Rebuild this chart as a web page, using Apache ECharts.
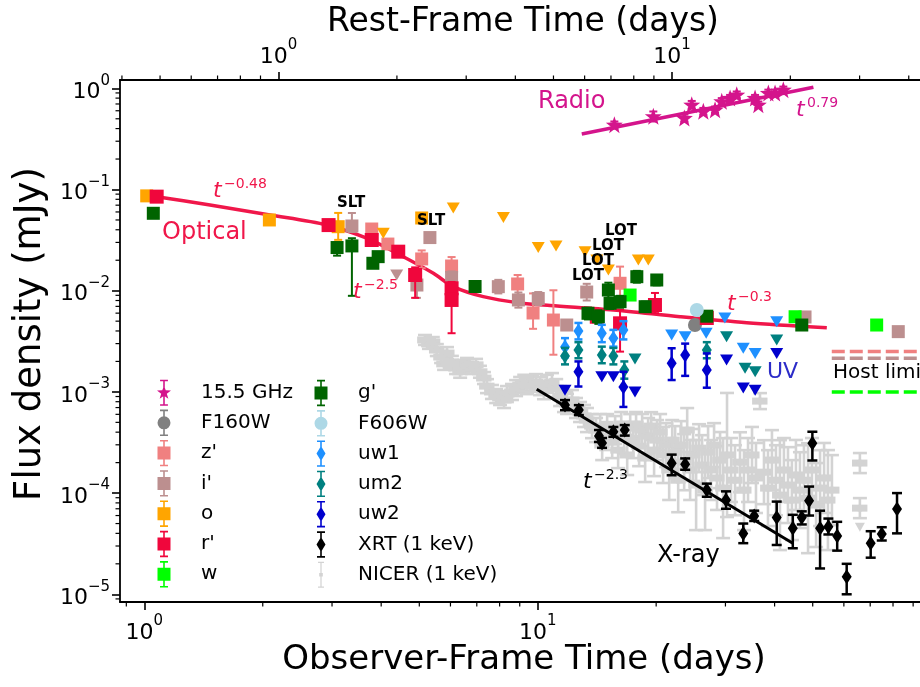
<!DOCTYPE html>
<html><head><meta charset="utf-8">
<script src="https://cdn.jsdelivr.net/npm/echarts@6/dist/echarts.min.js"></script>
<style>html,body{margin:0;padding:0;background:#fff}#c{width:920px;height:687px}</style>
</head><body><div id="c"></div>
<script>
// ---------------- axis ranges / ticks ----------------
const T_MIN = 0.8673, T_MAX = 118.4;      // observer-frame days
const F_MIN = 8.39e-6, F_MAX = 1.208;     // mJy
const REDSHIFT = 1.193;
const X_MAJOR = [1, 10];
const X_MINOR = [0.9, 2, 3, 4, 5, 6, 7, 8, 9, 20, 30, 40, 50, 60, 70, 80, 90, 110];
const XR_MAJOR = [1, 10];
const XR_MINOR = [0.4, 0.5, 0.6, 0.7, 0.8, 0.9, 2, 3, 4, 5, 6, 7, 8, 9, 20, 30, 40, 50];
const Y_MAJOR = [1, 0.1, 0.01, 0.001, 0.0001, 0.00001];
const Y_MINOR = [9e-6, 2e-5, 3e-5, 4e-5, 5e-5, 6e-5, 7e-5, 8e-5, 9e-5,
  2e-4, 3e-4, 4e-4, 5e-4, 6e-4, 7e-4, 8e-4, 9e-4,
  2e-3, 3e-3, 4e-3, 5e-3, 6e-3, 7e-3, 8e-3, 9e-3,
  0.02, 0.03, 0.04, 0.05, 0.06, 0.07, 0.08, 0.09,
  0.2, 0.3, 0.4, 0.5, 0.6, 0.7, 0.8, 0.9];

// ---------------- data ----------------
const RADIO_T = [15.66, 19.67, 23.59, 24.63, 26.36, 28.23, 29.36, 30.83, 32.05, 35.68, 36.37, 38.57, 40.11, 42.1];
const RADIO_F = [0.437, 0.529, 0.509, 0.689, 0.593, 0.614, 0.744, 0.802, 0.865, 0.802, 0.689, 0.899, 0.899, 0.969];
const RADIO_LO = [0.40, 0.47, 0.47, 0.63, 0.55, 0.57, 0.69, 0.74, 0.80, 0.74, 0.64, 0.83, 0.83, 0.90];
const RADIO_HI = [0.47, 0.59, 0.55, 0.75, 0.64, 0.66, 0.80, 0.86, 0.93, 0.86, 0.74, 0.97, 0.97, 1.04];
const RADIO_FIT_T = [12.94, 50.2];
const RADIO_FIT_F = [0.3535, 1.023];

const F160W_T = [25.1], F160W_F = [0.00458];
const F606W_T = [25.37], F606W_F = [0.00645];

const Z_T = [3.785, 4.16, 5.07, 6.04, 8.89, 9.73, 10.96, 16.19];
const Z_F = [0.0407, 0.0289, 0.0206, 0.01754, 0.01165, 0.00602, 0.00513, 0.01184];
const Z_LO = [0.037, 0.026, 0.0167, 0.0150, 0.0078, 0.0042, 0.00233, 0.0081];
const Z_HI = [0.045, 0.032, 0.025, 0.0215, 0.0143, 0.0094, 0.0101, 0.0173];

const I_T = [3.37, 4.93, 5.32, 6.04, 7.94, 8.93, 10.03, 11.85, 13.32, 47.8, 82.5];
const I_F = [0.0436, 0.01138, 0.0335, 0.0135, 0.01096, 0.0081, 0.00838, 0.00458, 0.0097, 0.0055, 0.00394];
const I_LO = [0.038, 0.0085, null, 0.0118, 0.0094, 0.0068, 0.0072, null, 0.0080, null, null];
const I_HI = [0.0586, 0.014, null, 0.0155, 0.0128, 0.0096, 0.0097, null, 0.0117, null, null];
const I_LIM_T = [4.38], I_LIM_F = [0.0143];

const O_T = [1.014, 2.079, 3.11, 5.07];
const O_F = [0.0865, 0.050, 0.0429, 0.0523];
const O_LO = [null, null, 0.0318, null];
const O_HI = [null, null, 0.0587, null];
const O_LIM_T = [4.05, 6.10, 8.18, 10.03, 11.13, 13.19, 14.13, 15.12, 18.02, 19.1];
const O_LIM_F = [0.0369, 0.0656, 0.0529, 0.0267, 0.0277, 0.0243, 0.0201, 0.0160, 0.0201, 0.0201];

const R_T = [1.075, 2.94, 3.785, 4.42, 4.88, 6.04, 6.04, 14.13, 16.19, 19.86, 26.9];
const R_F = [0.085, 0.0445, 0.0317, 0.0243, 0.0143, 0.01056, 0.0081, 0.00553, 0.00476, 0.00722, 0.00537];
const R_LO = [null, null, 0.0295, 0.0226, 0.0085, 0.0092, 0.0038, 0.0050, 0.0025, 0.0060, 0.0049];
const R_HI = [null, null, 0.0340, 0.0262, 0.0170, 0.0122, 0.0106, 0.0061, 0.0065, 0.0095, 0.0059];
const OPT_FIT_T = [0.994, 1.075, 1.469, 2.087, 2.909, 3.675, 4.467, 5.43, 6.10, 7.27, 9.02, 10.75, 15.57, 23.0, 33.98, 54.3];
const OPT_FIT_F = [0.0882, 0.0849, 0.0703, 0.0560, 0.0446, 0.0330, 0.02252, 0.01485, 0.01096, 0.00873, 0.00756, 0.00714, 0.00645, 0.00553, 0.00483, 0.00431];

const W_T = [17.17, 45.1, 72.7], W_F = [0.00906, 0.00553, 0.00458];

const G_T = [1.054, 3.09, 3.37, 3.81, 3.93, 6.93, 13.42, 14.26, 15.12, 15.27, 16.19, 17.86, 18.75, 20.07, 26.9, 46.9];
const G_F = [0.0582, 0.0267, 0.0277, 0.01866, 0.0217, 0.0110, 0.00598, 0.00553, 0.01016, 0.00751, 0.00779, 0.01375, 0.00695, 0.01276, 0.0056, 0.00458];
const G_LO = [0.056, 0.0222, 0.0089, 0.0175, 0.0200, 0.0098, 0.0052, 0.0047, 0.0085, 0.0066, 0.0068, 0.0120, 0.0062, 0.0113, 0.0052, 0.0042];
const G_HI = [0.060, 0.030, 0.033, 0.0199, 0.0235, 0.0123, 0.0068, 0.0064, 0.0120, 0.0085, 0.0089, 0.0157, 0.0078, 0.0143, 0.0061, 0.0050];

const UW1_T = [11.73, 12.69, 14.55, 15.57, 16.51];
const UW1_F = [0.00278, 0.0040, 0.00379, 0.00339, 0.00409];
const UW1_LO = [0.0022, 0.0033, 0.0031, 0.0028, 0.0033];
const UW1_HI = [0.0034, 0.0048, 0.0046, 0.0041, 0.0050];
const UW1_LIM_T = [21.9, 23.7, 26.8, 29.9, 33.3, 35.7, 40.5];
const UW1_LIM_F = [0.00365, 0.00351, 0.00379, 0.00537, 0.0027, 0.0024, 0.00494];

const UM2_T = [11.73, 12.69, 14.55, 15.57, 16.6, 26.9];
const UM2_F = [0.00226, 0.00259, 0.00232, 0.00226, 0.00165, 0.00259];
const UM2_LO = [0.00187, 0.00215, 0.00192, 0.00187, 0.00135, 0.00215];
const UM2_HI = [0.00272, 0.0031, 0.0028, 0.00272, 0.0020, 0.0031];
const UM2_LIM_T = [17.67, 30.2, 33.65, 35.7, 40.5];
const UM2_LIM_F = [0.00211, 0.00351, 0.00171, 0.00158, 0.00326];

const UW2_T = [12.69, 16.51, 21.9, 23.7, 26.9];
const UW2_F = [0.00158, 0.00112, 0.00192, 0.00232, 0.00165];
const UW2_LO = [0.00113, 0.00071, 0.00131, 0.00144, 0.0011];
const UW2_HI = [0.0020, 0.00158, 0.0027, 0.0030, 0.0024];
const UW2_LIM_T = [11.73, 14.55, 15.57, 17.67, 30.2, 33.3, 35.7, 40.5];
const UW2_LIM_F = [0.00104, 0.00141, 0.00141, 0.0010, 0.00207, 0.00109, 0.00104, 0.0024];

const XRT_T = [11.73, 12.72, 14.31, 14.57, 15.57, 16.64, 21.9, 23.7, 26.9, 30.1, 33.3, 35.5,
  40.5, 44.5, 46.9, 48.95, 49.9, 52.2, 54.8, 57.7, 61.0, 70.2, 74.9, 81.9];
const XRT_F = [7.41e-4, 6.62e-4, 3.66e-4, 3.13e-4, 4.04e-4, 4.20e-4, 1.97e-4, 1.93e-4, 1.07e-4, 8.55e-5, 3.99e-5, 5.94e-5,
  5.74e-5, 4.49e-5, 5.74e-5, 8.41e-5, 3.1e-4, 4.49e-5, 4.65e-5, 3.77e-5, 1.49e-5, 3.19e-5, 3.94e-5, 6.97e-5];
const XRT_LO = [6.6e-4, 5.9e-4, 3.2e-4, 2.8e-4, 3.6e-4, 3.7e-4, 1.5e-4, 1.7e-4, 9.2e-5, 7.0e-5, 3.2e-5, 5.3e-5,
  3.07e-5, 2.85e-5, 4.9e-5, 6.0e-5, 2.1e-4, 1.8e-5, 3.9e-5, 2.7e-5, 1.0e-5, 2.3e-5, 3.4e-5, 4.0e-5];
const XRT_HI = [8.3e-4, 7.4e-4, 4.2e-4, 3.5e-4, 4.5e-4, 4.7e-4, 2.4e-4, 2.2e-4, 1.24e-4, 1.04e-4, 5.0e-5, 6.7e-5,
  8.24e-5, 6.1e-5, 6.6e-5, 1.16e-4, 4.04e-4, 6.7e-5, 5.6e-5, 5.2e-5, 2.0e-5, 4.2e-5, 4.6e-5, 1.0e-4];
const XRT_FIT_T = [9.94, 44.5];
const XRT_FIT_F = [1.061e-3, 3.19e-5];

const NICER_T = [5.17, 5.29, 5.41, 5.54, 5.68, 5.78, 5.88, 6.05, 6.20, 6.35,
  6.49, 6.61, 6.81, 6.97, 7.13, 7.30, 7.43, 7.65, 7.84, 8.02,
  8.21, 8.35, 8.60, 8.81, 9.02, 9.24, 9.39, 9.67, 9.90, 10.14,
  10.37, 10.55, 10.87, 11.14, 11.40, 11.66, 11.87, 12.22, 12.51, 12.81,
  13.11, 13.34, 13.74, 14.07, 14.41, 14.58, 14.93, 15.01, 15.46, 15.73,
  16.01, 16.30, 16.58, 16.88, 17.18, 17.49, 17.78, 18.10, 18.42, 18.75,
  19.08, 19.42, 19.76, 20.11, 20.47, 20.83, 21.20, 21.58, 21.97, 22.35,
  22.75, 23.15, 23.56, 23.98, 24.40, 24.83, 25.27, 25.71, 26.17, 26.63,
  27.10, 27.58, 28.07, 28.56, 29.07, 29.59, 30.28, 31.0, 31.73, 32.67,
  33.44, 34.24, 35.05, 35.87, 36.72, 37.59, 38.48, 39.39, 40.32, 41.27,
  42.25, 43.26, 44.27, 45.32, 46.4, 47.5, 48.65, 49.78, 51.0, 52.2,
  53.44, 54.66, 55.95, 65.9, 65.9];
const NICER_F = [3.26e-3, 2.98e-3, 3.11e-3, 2.59e-3, 2.21e-3, 1.89e-3, 2.42e-3, 1.98e-3, 1.72e-3, 1.58e-3,
  1.80e-3, 1.89e-3, 1.72e-3, 1.85e-3, 1.58e-3, 1.37e-3, 1.14e-3, 9.98e-4, 9.1e-4, 8.70e-4,
  8.31e-4, 9.52e-4, 9.98e-4, 1.09e-3, 1.17e-3, 1.23e-3, 1.14e-3, 1.20e-3, 1.25e-3, 1.14e-3,
  1.04e-3, 1.20e-3, 1.25e-3, 1.09e-3, 9.1e-4, 7.94e-4, 7.6e-4, 8.31e-4, 6.93e-4, 6.33e-4,
  5.78e-4, 5.27e-4, 4.59e-4, 4.20e-4, 4.39e-4, 2.98e-4, 3.66e-4, 4.59e-4, 3.19e-4, 4.20e-4,
  2.66e-4, 4.81e-4, 3.50e-4, 2.38e-4, 4.39e-4, 3.34e-4, 4.81e-4, 2.91e-4, 4.20e-4, 2.22e-4,
  3.66e-4, 4.59e-4, 2.66e-4, 3.34e-4, 4.01e-4, 2.38e-4, 2.98e-4, 1.69e-4, 3.34e-4, 2.54e-4,
  1.34e-4, 2.98e-4, 2.02e-4, 4.20e-4, 1.69e-4, 2.38e-4, 1.20e-4, 2.78e-4, 1.89e-4, 1.07e-4,
  2.54e-4, 1.69e-4, 2.98e-4, 1.41e-4, 2.12e-4, 1.12e-4, 2.38e-4, 1.69e-4, 1.34e-4, 2.02e-4,
  1.07e-4, 1.69e-4, 2.38e-4, 1.41e-4, 8.11e-4, 1.61e-4, 1.12e-4, 2.12e-4, 1.34e-4, 9.55e-5,
  1.69e-4, 1.20e-4, 8.53e-5, 1.51e-4, 1.07e-4, 1.34e-4, 8.9e-5, 1.69e-4, 7.62e-5, 1.12e-4,
  1.41e-4, 8.53e-5, 1.07e-4, 1.98e-4, 7.1e-5];
const NICER_ERR_DEX = [.049, .049, .049, .059, .059, .059, .059, .059, .059, .059,
  .059, .059, .059, .059, .059, .059, .069, .069, .069, .069,
  .079, .079, .079, .079, .079, .079, .079, .079, .079, .089,
  .089, .089, .089, .089, .099, .099, .099, .099, .099, .099,
  .109, .119, .119, .119, .138, .148, .138, .119, .158, .138,
  .178, .119, .158, .198, .138, .178, .119, .198, .158, .237,
  .178, .138, .257, .198, .178, .277, .217, .296, .198, .257,
  .316, .237, .277, .217, .296, .257, .445, .237, .296, .395,
  .257, .296, .217, .316, .277, .494, .613, .316, .346, .296,
  .395, .316, .277, .346, .079, .316, .375, .296, .346, .543,
  .316, .375, .395, .346, .375, .346, .543, .316, .415, .375,
  .346, .494, .346, .099, .099];
const NICER_T_ERR = 0.045;   // fractional time half-width
const NICER_LIM_T = [65.9], NICER_LIM_F = [4.6e-5];

const HOST_T = [55.9, 200];
const HOST_Z_F = [2.50e-3, 2.50e-3];
const HOST_I_F = [2.15e-3, 2.15e-3];
const HOST_W_F = [1.0e-3, 1.0e-3];

// ---------------- styling ----------------
const C = {
  radio: '#d4148c', f160: '#808080', z: '#f08080', i: '#bc8f8f', o: '#ffa500', r: '#f0063c',
  w: '#00ff00', g: '#006400', f606: '#add8e6', uw1: '#1e90ff', um2: '#008080', uw2: '#0000cd',
  xrt: '#000000', nicer: '#d3d3d3', optFit: '#f0174a'
};
const FONT = "'DejaVu Sans'";
const STAR = 'M7,6.5L8.76,11.57L14.13,11.68L9.85,14.93L11.41,20.07L7,17L2.59,20.07L4.15,14.93L-0.13,11.68L5.24,11.57Z';
const ICON_BASE = 'path://M0,0L0.01,0L0,0.01Z M14,28L13.99,28L14,27.99Z M6.2,1.5H7.8V26.5H6.2Z M3,0.8H11V2.4H3Z M3,25.6H11V27.2H3Z ';
const ICON = {
  square: ICON_BASE + 'M0.5,7.5H13.5V20.5H0.5Z',
  circle: ICON_BASE + 'M0.5,14A6.5,6.5 0 1,1 13.5,14A6.5,6.5 0 1,1 0.5,14Z',
  diamond: ICON_BASE + 'M7,6.5L11.5,14L7,21.5L2.5,14Z',
  star: ICON_BASE + STAR,
  dot: 'path://M0,0L0.01,0L0,0.01Z M14,28L13.99,28L14,27.99Z M6.4,1.5H7.6V26.5H6.4Z M4,1H10V2.2H4Z M4,25.8H10V27H4Z M5.2,12.2H8.8V15.8H5.2Z'
};

function pairs(t, f) { return t.map((v, i) => [v, f[i]]); }

function errBars(t, f, lo, hi, color, lw, cap, z) {
  const data = [];
  for (let k = 0; k < t.length; k++) if (lo[k] != null) data.push([t[k], f[k], lo[k], hi[k]]);
  return {
    type: 'custom', xAxisIndex: 0, yAxisIndex: 0, z, clip: true, silent: true, data,
    encode: { x: 0, y: 1 },
    renderItem(params, api) {
      const x = api.value(0), l = api.value(2), h = api.value(3);
      const p1 = api.coord([x, l]), p2 = api.coord([x, h]);
      const st = { stroke: color, lineWidth: lw, fill: null };
      return { type: 'group', children: [
        { type: 'line', shape: { x1: p1[0], y1: p1[1], x2: p2[0], y2: p2[1] }, style: st },
        { type: 'line', shape: { x1: p1[0] - cap, y1: p1[1], x2: p1[0] + cap, y2: p1[1] }, style: st },
        { type: 'line', shape: { x1: p2[0] - cap, y1: p2[1], x2: p2[0] + cap, y2: p2[1] }, style: st }
      ]};
    }
  };
}
function marks(name, t, f, symbol, size, color, z, rotate) {
  return {
    type: 'scatter', name, xAxisIndex: 0, yAxisIndex: 0, z, silent: true, clip: true,
    data: pairs(t, f), symbol, symbolSize: size, symbolRotate: rotate || 0,
    itemStyle: { color, opacity: 1, borderWidth: 0 }, emphasis: { disabled: true }
  };
}
function band(o) {
  const out = [];
  if (o.lo) out.push(errBars(o.t, o.f, o.lo, o.hi, o.color, o.lw || 2, o.cap || 4, o.z));
  out.push(marks(o.name, o.t, o.f, o.symbol, o.size, o.color, o.z));
  if (o.limT) out.push(marks(o.name + ' (limit)', o.limT, o.limF, 'triangle', [13, 11], o.color, o.z, 180));
  return out;
}
function fitLine(t, f, color, width, z, smooth) {
  return { type: 'line', xAxisIndex: 0, yAxisIndex: 0, data: pairs(t, f), showSymbol: false, symbol: 'none',
    smooth: smooth || false, silent: true, z, clip: true, lineStyle: { color, width } };
}
function hostLine(t, f, color) {
  return { type: 'line', xAxisIndex: 0, yAxisIndex: 0, data: pairs(t, f), showSymbol: false, symbol: 'none',
    silent: true, z: 2, clip: true, lineStyle: { color, width: 3.5, type: [13, 5] } };
}
function minorTicks(values, which) {
  const isY = which === 'y';
  const data = values.map(v => which === 'y' ? [T_MIN, v] : which === 'top' ? [v, F_MAX] : [v, F_MIN]);
  return {
    type: 'custom', xAxisIndex: which === 'top' ? 1 : 0, yAxisIndex: 0, z: 20, clip: false, silent: true, data,
    encode: { x: 0, y: 1 },
    renderItem(params, api) {
      const p = api.coord([api.value(0), api.value(1)]);
      const st = { stroke: '#000', lineWidth: 1.2 };
      let s;
      if (isY) s = { x1: p[0], y1: p[1], x2: p[0] - 4.5, y2: p[1] };
      else if (which === 'top') s = { x1: p[0], y1: p[1], x2: p[0], y2: p[1] - 4.5 };
      else s = { x1: p[0], y1: p[1], x2: p[0], y2: p[1] + 4.5 };
      return { type: 'line', shape: s, style: st };
    }
  };
}

// NICER error bars (both directions)
const nicerErr = {
  type: 'custom', xAxisIndex: 0, yAxisIndex: 0, z: 1, clip: true, silent: true,
  data: NICER_T.map((t, k) => [t, NICER_F[k], NICER_ERR_DEX[k]]),
  encode: { x: 0, y: 1 },
  renderItem(params, api) {
    const t = api.value(0), f = api.value(1), d = api.value(2);
    const pl = api.coord([t, f * Math.pow(10, -d)]), ph = api.coord([t, f * Math.pow(10, d)]);
    const pa = api.coord([t * (1 - NICER_T_ERR), f]), pb = api.coord([t * (1 + NICER_T_ERR), f]);
    const st = { stroke: C.nicer, lineWidth: 2.6, fill: null };
    return { type: 'group', children: [
      { type: 'line', shape: { x1: pl[0], y1: pl[1], x2: ph[0], y2: ph[1] }, style: st },
      { type: 'line', shape: { x1: pl[0] - 7, y1: pl[1], x2: pl[0] + 7, y2: pl[1] }, style: st },
      { type: 'line', shape: { x1: ph[0] - 7, y1: ph[1], x2: ph[0] + 7, y2: ph[1] }, style: st },
      { type: 'line', shape: { x1: pa[0], y1: pa[1], x2: pb[0], y2: pb[1] }, style: { stroke: C.nicer, lineWidth: 7 } }
    ]};
  }
};

const series = [
  nicerErr,
  marks('NICER (1 keV)', NICER_T, NICER_F, 'circle', 7, C.nicer, 1),
  marks('NICER limit', NICER_LIM_T, NICER_LIM_F, 'triangle', [10, 9], C.nicer, 1, 180),
  fitLine(OPT_FIT_T, OPT_FIT_F, C.optFit, 3.5, 2, 0.3),
  fitLine(RADIO_FIT_T, RADIO_FIT_F, C.radio, 3.5, 2),
  fitLine(XRT_FIT_T, XRT_FIT_F, '#000', 3, 2),
  hostLine(HOST_T, HOST_Z_F, C.z),
  hostLine(HOST_T, HOST_I_F, C.i),
  hostLine(HOST_T, HOST_W_F, C.w),
  ...band({ name: '15.5 GHz', t: RADIO_T, f: RADIO_F, lo: RADIO_LO, hi: RADIO_HI, color: C.radio, symbol: 'path://' + STAR, size: 17, z: 3 }),
  ...band({ name: 'F160W', t: F160W_T, f: F160W_F, color: C.f160, symbol: 'circle', size: 14, z: 4 }),
  ...band({ name: "z'", t: Z_T, f: Z_F, lo: Z_LO, hi: Z_HI, color: C.z, symbol: 'rect', size: 13, z: 5 }),
  ...band({ name: "i'", t: I_T, f: I_F, lo: I_LO, hi: I_HI, limT: I_LIM_T, limF: I_LIM_F, color: C.i, symbol: 'rect', size: 13, z: 6 }),
  ...band({ name: 'o', t: O_T, f: O_F, lo: O_LO, hi: O_HI, limT: O_LIM_T, limF: O_LIM_F, color: C.o, symbol: 'rect', size: 13, z: 7 }),
  ...band({ name: "r'", t: R_T, f: R_F, lo: R_LO, hi: R_HI, color: C.r, symbol: 'rect', size: 14, z: 8 }),
  ...band({ name: 'w', t: W_T, f: W_F, color: C.w, symbol: 'rect', size: 13, z: 9 }),
  ...band({ name: "g'", t: G_T, f: G_F, lo: G_LO, hi: G_HI, color: C.g, symbol: 'rect', size: 13, z: 10 }),
  ...band({ name: 'F606W', t: F606W_T, f: F606W_F, color: C.f606, symbol: 'circle', size: 14, z: 11 }),
  ...band({ name: 'uw1', t: UW1_T, f: UW1_F, lo: UW1_LO, hi: UW1_HI, limT: UW1_LIM_T, limF: UW1_LIM_F, color: C.uw1, symbol: 'diamond', size: [10, 15], z: 12, lw: 2.5 }),
  ...band({ name: 'um2', t: UM2_T, f: UM2_F, lo: UM2_LO, hi: UM2_HI, limT: UM2_LIM_T, limF: UM2_LIM_F, color: C.um2, symbol: 'diamond', size: [10, 15], z: 13, lw: 2.5 }),
  ...band({ name: 'uw2', t: UW2_T, f: UW2_F, lo: UW2_LO, hi: UW2_HI, limT: UW2_LIM_T, limF: UW2_LIM_F, color: C.uw2, symbol: 'diamond', size: [10, 15], z: 14, lw: 2.5 }),
  ...band({ name: 'XRT (1 keV)', t: XRT_T, f: XRT_F, lo: XRT_LO, hi: XRT_HI, color: C.xrt, symbol: 'diamond', size: [10, 15], z: 15, lw: 2.5, cap: 5 }),
  minorTicks(X_MINOR, 'bottom'),
  minorTicks(XR_MINOR, 'top'),
  minorTicks(Y_MINOR, 'y')
];

function supLabel(v) {
  const e = Math.round(Math.log10(v));
  return '{b|10}{s|' + (e < 0 ? '\u2212' + (-e) : e) + '}';
}
const tickRich = {
  b: { fontSize: 22, fontFamily: FONT, color: '#000', lineHeight: 30, verticalAlign: 'bottom' },
  s: { fontSize: 15, fontFamily: FONT, color: '#000', lineHeight: 15, verticalAlign: 'top' }
};
const axisCommon = {
  type: 'log', logBase: 10, splitLine: { show: false }, minorTick: { show: false },
  axisLine: { show: true, onZero: false, lineStyle: { color: '#000', width: 1.8 } },
  axisTick: { show: true, length: 8, lineStyle: { color: '#000', width: 1.6 } }
};

function txt(text, x, y, font, fill, extra) {
  return Object.assign({ type: 'text', x, y, z: 100, silent: true,
    style: { text, font, fill, textAlign: 'left', textVerticalAlign: 'middle', align: 'left', verticalAlign: 'middle' } }, extra || {});
}
function ctxt(text, x, y, font, extra) {
  return Object.assign({ type: 'text', x, y, z: 100, silent: true,
    style: { text, font, fill: '#000', textAlign: 'center', textVerticalAlign: 'middle', align: 'center', verticalAlign: 'middle' } }, extra || {});
}
function powerLabel(base, sup, x, y, color, bsize, ssize) {
  return [txt(base, x, y, 'italic ' + bsize + 'px ' + FONT, color),
          txt(sup, x + bsize * 0.5, y - 7, ssize + 'px ' + FONT, color)];
}

const legendText = { fontSize: 20, fontFamily: FONT, color: '#000', padding: [0, 0, 0, 25] };
const option = {
  animation: false,
  backgroundColor: '#fff',
  textStyle: { fontFamily: FONT },
  grid: { left: 120, top: 80, width: 840, height: 522, containLabel: false, outerBoundsMode: 'none' },
  xAxis: [
    Object.assign({}, axisCommon, {
      position: 'bottom', min: T_MIN, max: T_MAX,
      axisTick: Object.assign({}, axisCommon.axisTick, { customValues: X_MAJOR }),
      axisLabel: { customValues: X_MAJOR, formatter: supLabel, rich: tickRich, margin: 12 }
    }),
    Object.assign({}, axisCommon, {
      position: 'top', min: T_MIN / (1 + REDSHIFT), max: T_MAX / (1 + REDSHIFT),
      axisTick: Object.assign({}, axisCommon.axisTick, { customValues: XR_MAJOR }),
      axisLabel: { customValues: XR_MAJOR, formatter: supLabel, rich: tickRich, margin: 12 }
    })
  ],
  yAxis: [
    Object.assign({}, axisCommon, {
      position: 'left', min: F_MIN, max: F_MAX,
      axisTick: Object.assign({}, axisCommon.axisTick, { customValues: Y_MAJOR }),
      axisLabel: { customValues: Y_MAJOR, formatter: supLabel, rich: tickRich, margin: 10 }
    })
  ],
  legend: [
    { orient: 'vertical', left: 152, top: 374, itemWidth: 14, itemHeight: 28, itemGap: 2.3, selectedMode: false,
      textStyle: legendText,
      data: [
        { name: '15.5 GHz', icon: ICON.star }, { name: 'F160W', icon: ICON.circle },
        { name: "z'", icon: ICON.square }, { name: "i'", icon: ICON.square },
        { name: 'o', icon: ICON.square }, { name: "r'", icon: ICON.square }, { name: 'w', icon: ICON.square }] },
    { orient: 'vertical', left: 309, top: 374, itemWidth: 14, itemHeight: 28, itemGap: 2.3, selectedMode: false,
      textStyle: legendText,
      data: [
        { name: "g'", icon: ICON.square }, { name: 'F606W', icon: ICON.circle },
        { name: 'uw1', icon: ICON.diamond }, { name: 'um2', icon: ICON.diamond },
        { name: 'uw2', icon: ICON.diamond }, { name: 'XRT (1 keV)', icon: ICON.diamond },
        { name: 'NICER (1 keV)', icon: ICON.dot }] }
  ],
  graphic: { elements: [
    ctxt('Rest-Frame Time (days)', 523, 22, '33px ' + FONT),
    ctxt('Observer-Frame Time (days)', 524, 660, '34px ' + FONT),
    ctxt('Flux density (mJy)', 30, 334, '37px ' + FONT, { rotation: Math.PI / 2 }),
    txt('Radio', 538, 102, '24px ' + FONT, C.radio),
    ...powerLabel('t', '0.79', 796, 110, C.radio, 22, 14),
    txt('Optical', 162, 233, '24px ' + FONT, C.optFit),
    ...powerLabel('t', '\u22120.48', 213, 191, C.optFit, 22, 14),
    ...powerLabel('t', '\u22122.5', 353, 292, C.optFit, 22, 14),
    ...powerLabel('t', '\u22120.3', 727, 304, C.optFit, 22, 14),
    ...powerLabel('t', '\u22122.3', 583, 482, '#000', 22, 14),
    txt('X-ray', 657, 556, '24px ' + FONT, '#000'),
    txt('UV', 767, 372, '22px ' + FONT, '#2c2cc8'),
    txt('SLT', 337, 203, 'bold 15px ' + FONT, '#000'),
    txt('SLT', 417, 221, 'bold 15px ' + FONT, '#000'),
    txt('LOT', 605, 231, 'bold 15px ' + FONT, '#000'),
    txt('LOT', 592, 246, 'bold 15px ' + FONT, '#000'),
    txt('LOT', 582, 261, 'bold 15px ' + FONT, '#000'),
    txt('LOT', 572, 276, 'bold 15px ' + FONT, '#000'),
    txt('Host limit', 833, 373, '20px ' + FONT, '#000')
  ]},
  series
};
const chart = echarts.init(document.getElementById('c'), null, { renderer: 'canvas' });
chart.setOption(option);
</script></body></html>
